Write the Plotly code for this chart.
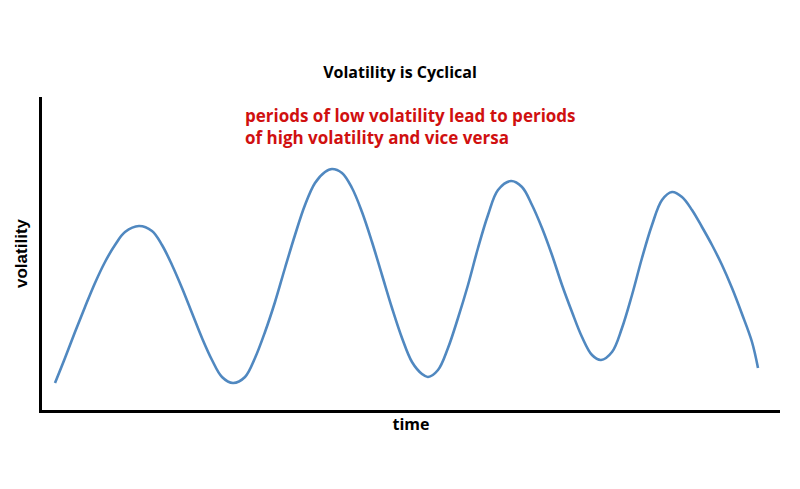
import plotly.graph_objects as go

# Readings from the picture (time units, volatility units; arbitrary scale)
time = [13, 23, 33, 43, 53, 63, 73, 83, 97, 110, 120, 130, 140, 150, 160, 170, 180, 191,
        203, 213, 223, 233, 243, 253, 263, 273, 283, 290, 300, 310, 320, 330, 340, 350,
        360, 370, 380, 386, 396, 406, 416, 426, 436, 446, 456, 469, 480, 490, 500, 510,
        520, 530, 540, 550, 559, 570, 580, 590, 600, 610, 620, 630, 640, 650, 660, 670,
        680, 690, 700, 710, 716]
volatility = [27, 52, 78, 103, 127, 148, 165, 178, 184, 179, 165, 145, 122, 97, 72, 50, 33, 27,
              33, 52, 78, 108, 142, 175, 205, 227, 238, 241, 237, 222, 198, 168, 135, 102,
              72, 48, 36, 33, 40, 62, 92, 125, 162, 195, 220, 229, 223, 205, 182, 155,
              125, 98, 73, 55, 50, 58, 82, 115, 152, 185, 210, 218, 213, 200, 183, 165,
              145, 122, 96, 68, 42]

x_max = 738
y_max = 313

fig = go.Figure()
fig.add_trace(go.Scatter(
    x=time, y=volatility, mode="lines",
    line=dict(color="#5088C0", width=2.6, shape="spline", smoothing=1.0),
    hoverinfo="skip", showlegend=False,
))

fig.update_layout(
    width=800, height=489,
    margin=dict(l=42, r=20, t=97, b=79),
    paper_bgcolor="white", plot_bgcolor="white",
    title=dict(text="<b>Volatility is Cyclical</b>", x=0.5, xanchor="center",
               y=1 - 72 / 489, yanchor="middle", yref="container",
               font=dict(family="Open Sans", size=16, color="black")),
    xaxis=dict(range=[0, x_max], showgrid=False, zeroline=False,
               showticklabels=False, ticks="", showline=True,
               linecolor="black", linewidth=2.5,
               title=dict(text="<b>time</b>", standoff=8,
                          font=dict(family="Open Sans", size=16, color="black"))),
    yaxis=dict(range=[0, y_max], showgrid=False, zeroline=False,
               showticklabels=False, ticks="", showline=True,
               linecolor="black", linewidth=2.5,
               title=dict(text="<b>volatility</b>", standoff=8,
                          font=dict(family="Liberation Sans", size=17, color="black"))),
    annotations=[dict(
        text="<b>periods of low volatility lead to periods<br>of high volatility and vice versa</b>",
        xref="paper", yref="paper", x=(243 - 42) / 738, y=(410 - 126) / 313,
        xanchor="left", yanchor="middle", align="left", showarrow=False,
        font=dict(family="Open Sans", size=17, color="#D01010"),
    )],
)

fig.write_html("out.html", config={"displayModeBar": False},
               post_script="document.body.style.margin='0';")
